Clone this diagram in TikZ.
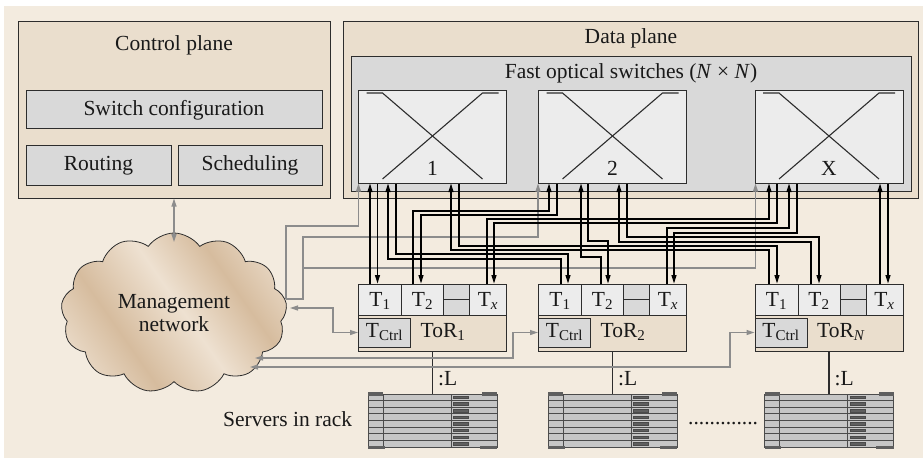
\documentclass[tikz,border=0pt]{standalone}
\usepackage{fontspec}
\setmainfont{Liberation Serif}
\usetikzlibrary{arrows.meta,shapes.symbols,fit}

\definecolor{bgbeige}{RGB}{243,235,223}
\definecolor{planetan}{RGB}{234,222,205}
\definecolor{boxgrey}{RGB}{217,217,217}
\definecolor{cellgrey}{RGB}{236,236,236}
\definecolor{edge}{RGB}{45,45,45}
\definecolor{mgmtline}{RGB}{140,140,140}
\definecolor{cloudA}{RGB}{214,188,158}
\definecolor{cloudB}{RGB}{238,225,209}
\definecolor{rackfill}{RGB}{198,198,198}
\definecolor{rackdark}{RGB}{75,75,75}
\definecolor{rackcap}{RGB}{95,95,95}

\pgfdeclarehorizontalshading{cloudstripes}{100bp}{color(0bp)=(cloudA); color(20bp)=(cloudB); color(36bp)=(cloudA); color(52bp)=(cloudB); color(66bp)=(cloudA); color(82bp)=(cloudB); color(100bp)=(cloudA)}

\tikzset{
  plane/.style={draw=edge, fill=planetan, line width=1pt, inner sep=0pt},
  greybox/.style={draw=edge, fill=boxgrey, line width=1pt, inner sep=0pt},
  swbox/.style={draw=edge, fill=cellgrey, line width=1pt, inner sep=0pt},
  cell/.style={draw=edge, fill=cellgrey, line width=1pt, inner sep=0pt},
  swline/.style={draw=edge, line width=1.1pt},
  data/.style={line width=1.2pt, draw=black, -{Triangle[length=8.5pt,width=5pt]}},
  mgmt/.style={line width=1.2pt, draw=mgmtline, -{Triangle[length=8pt,width=5pt]}},
  mgmtboth/.style={line width=1.2pt, draw=mgmtline, {Triangle[length=8pt,width=5pt]}-{Triangle[length=8pt,width=5pt]}},
  rack/.style={draw=rackdark, fill=rackfill, line width=0.8pt, inner sep=0pt},
  rackline/.style={draw=rackdark, line width=0.8pt},
  txt/.style={inner sep=0pt, text=black!90},
}

\begin{document}
\begin{tikzpicture}[x=1pt, y=-1pt, font=\fontsize{21.5}{23}\selectfont]
\useasboundingbox (0,0) rectangle (923,464);
\fill[bgbeige] (4,6) rectangle (923,458);

% ---------- control plane ----------
\node[plane, fit={(18,21)(330,198)}] (ctrl) {};
\node[txt, anchor=base] (ctrltitle) at (174,50) {Control plane};
\node[greybox, fit={(26,90)(322,128)}] (swconf) {};
\node[txt, anchor=base] (swconftxt) at (174,115) {Switch configuration};
\node[greybox, fit={(26,145)(171,185)}] (routing) {};
\node[txt, anchor=base] (routingtxt) at (98.5,170) {Routing};
\node[greybox, fit={(178,145)(322,185)}] (sched) {};
\node[txt, anchor=base] (schedtxt) at (250,170) {Scheduling};

% ---------- data plane ----------
\node[plane, fit={(343,21)(918,198)}] (dplane) {};
\node[txt, anchor=base] (dtitle) at (631,43) {Data plane};
\node[greybox, fit={(351,56)(911,191)}] (bank) {};
\node[txt, anchor=base] (banktitle) at (631,78) {Fast optical switches (\textit{N} × \textit{N})};

\foreach \s/\c/\t in {sw1/432.5/1, sw2/612.5/2, swX/829/X} {
  \node[swbox, fit={(\c-74,90)(\c+74,183)}] (\s) {};
  \draw[swline] (\c-66,93) -- (\c-50,93) -- (\c+50,179);
  \draw[swline] (\c+66,93) -- (\c+50,93) -- (\c-50,179);
  \node[txt, anchor=base] (\s num) at (\c,175) {\t};
}

% ---------- top-of-rack switches ----------
\foreach \n/\L/\sub in {1/358.5/1, 2/538.5/2, N/755/\textit{N}} {
  \node[plane, fit={(\L,315)(\L+148,351)}] (tor\n) {};
  \node[cell, fit={(\L,284)(\L+43,315)}] (t\n a) {};
  \node[cell, fit={(\L+43,284)(\L+85,315)}] (t\n b) {};
  \node[greybox, fit={(\L+85,284)(\L+111,299.5)}] (g\n u) {};
  \node[greybox, fit={(\L+85,299.5)(\L+111,315)}] (g\n d) {};
  \node[cell, fit={(\L+111,284)(\L+148,315)}] (t\n x) {};
  \node[txt, anchor=base] (t\n atxt) at (\L+21.5,306) {T\textsubscript{1}};
  \node[txt, anchor=base] (t\n btxt) at (\L+64,306) {T\textsubscript{2}};
  \node[txt, anchor=base] (t\n xtxt) at (\L+129.5,306) {T\textsubscript{\textit{x}}};
  \node[greybox, fit={(\L,318)(\L+52,347)}] (tc\n) {};
  \node[txt, anchor=base] (tc\n txt) at (\L+26,337) {T\textsubscript{Ctrl}};
  \node[txt, anchor=base west] (tor\n txt) at (\L+62,337) {ToR\textsubscript{\sub}};
}

% ---------- server racks ----------
\foreach \n/\c in {1/432.5, 2/612.5, N/829} {
  \node[rack, fit={(\c-64.5,394)(\c+64.5,447)}] (rack\n) {};
  \draw[rackline] (\c-49.5,394) -- (\c-49.5,447);
  \draw[rackline] (\c+18.5,394) -- (\c+18.5,447);
  \foreach \k in {1,...,7}
    \draw[rackline] (\c-64.5,394+\k*6.625) -- (\c+64.5,394+\k*6.625);
  \foreach \k in {0,...,7}
    \draw[draw=rackdark, fill=rackcap, line width=0.5pt] (\c+21,394+\k*6.625+2) rectangle (\c+36,394+\k*6.625+4.6);
  \fill[rackcap] (\c-64.5,392) rectangle (\c-49.5,395.5);
  \fill[rackcap] (\c+49.5,392) rectangle (\c+64.5,395.5);
  \fill[rackcap] (\c-64.5,445.5) rectangle (\c-48,449);
  \fill[rackcap] (\c+47,445.5) rectangle (\c+64.5,449);
  \draw[line width=1.2pt, edge] (tor\n.south) -- (rack\n.north);
  \node[txt, anchor=base west] (len\n) at (\c+5.5,385) {:L};
}
\node[txt, anchor=base west] (srvlbl) at (223,426) {Servers in rack};
\node[txt, anchor=base west] (dots) at (688,424) {.............};

% ---------- management network ----------
\node[cloud, cloud puffs=13, cloud puff arc=110, cloud ignores aspect,
      minimum width=226pt, minimum height=160pt, draw=edge, line width=0.8pt,
      shade, shading=cloudstripes, shading angle=35, inner sep=0pt, align=center,
      text=black!90] (mgmt) at (174,313) {Management\\network};

\coordinate (mout) at (286,299);
\coordinate (min1) at (290,308);
\coordinate (min2) at (255,358);
\coordinate (min3) at (250,367);

\draw[mgmtboth] (ctrl.south) -- (ctrl.south |- 0,242);
\draw[mgmt] (mout) -- (286,226) -| ([xshift=0.5pt]sw1.south west);
\draw[mgmt] (mout) -- (303,299) -- (303,237) -| (sw2.south west);
\draw[mgmt] (303,268) -| ([xshift=1pt]swX.south west);
\draw[mgmtboth] (min1) -- (333,308) |- (tc1.west);
\draw[mgmtboth] (min2) -- (513,358) |- (tc2.west);
\draw[mgmtboth] (min3) -- (730,367) |- (tcN.west);

% ---------- optical data links ----------
% switch 1
\draw[data] (370,0 |- t1a.north) -- (370,0 |- sw1.south);
\draw[data] (377.5,0 |- sw1.south) -- (377.5,0 |- t1a.north);
\draw[data] (561,0 |- t2a.north) -- (561,259) -| (388,0 |- sw1.south);
\draw[data] (396,0 |- sw1.south) -- (396,254) -| (568,0 |- t2a.north);
\draw[data] (769,0 |- tNa.north) -- (769,250) -| (451,0 |- sw1.south);
\draw[data] (459,0 |- sw1.south) -- (459,246) -| (777,0 |- tNa.north);
% switch 2
\draw[data] (413,0 |- t1b.north) -- (413,211) -| (549,0 |- sw2.south);
\draw[data] (557,0 |- sw2.south) -- (557,215) -| (421,0 |- t1b.north);
\draw[data] (601,0 |- t2b.north) -- (601,257) -| (581,0 |- sw2.south);
\draw[data] (588,0 |- sw2.south) -- (588,241) -| (608,0 |- t2b.north);
\draw[data] (811,0 |- tNb.north) -- (811,242) -| (619,0 |- sw2.south);
\draw[data] (627,0 |- sw2.south) -- (627,237) -| (819,0 |- tNb.north);
% switch X
\draw[data] (487,0 |- t1x.north) -- (487,219) -| (769,0 |- swX.south);
\draw[data] (777,0 |- swX.south) -- (777,223) -| (494,0 |- t1x.north);
\draw[data] (667,0 |- t2x.north) -- (667,228) -| (789,0 |- swX.south);
\draw[data] (797,0 |- swX.south) -- (797,233) -| (674,0 |- t2x.north);
\draw[data] (880,0 |- tNx.north) -- (880,0 |- swX.south);
\draw[data] (888,0 |- swX.south) -- (888,0 |- tNx.north);
\end{tikzpicture}
\end{document}
